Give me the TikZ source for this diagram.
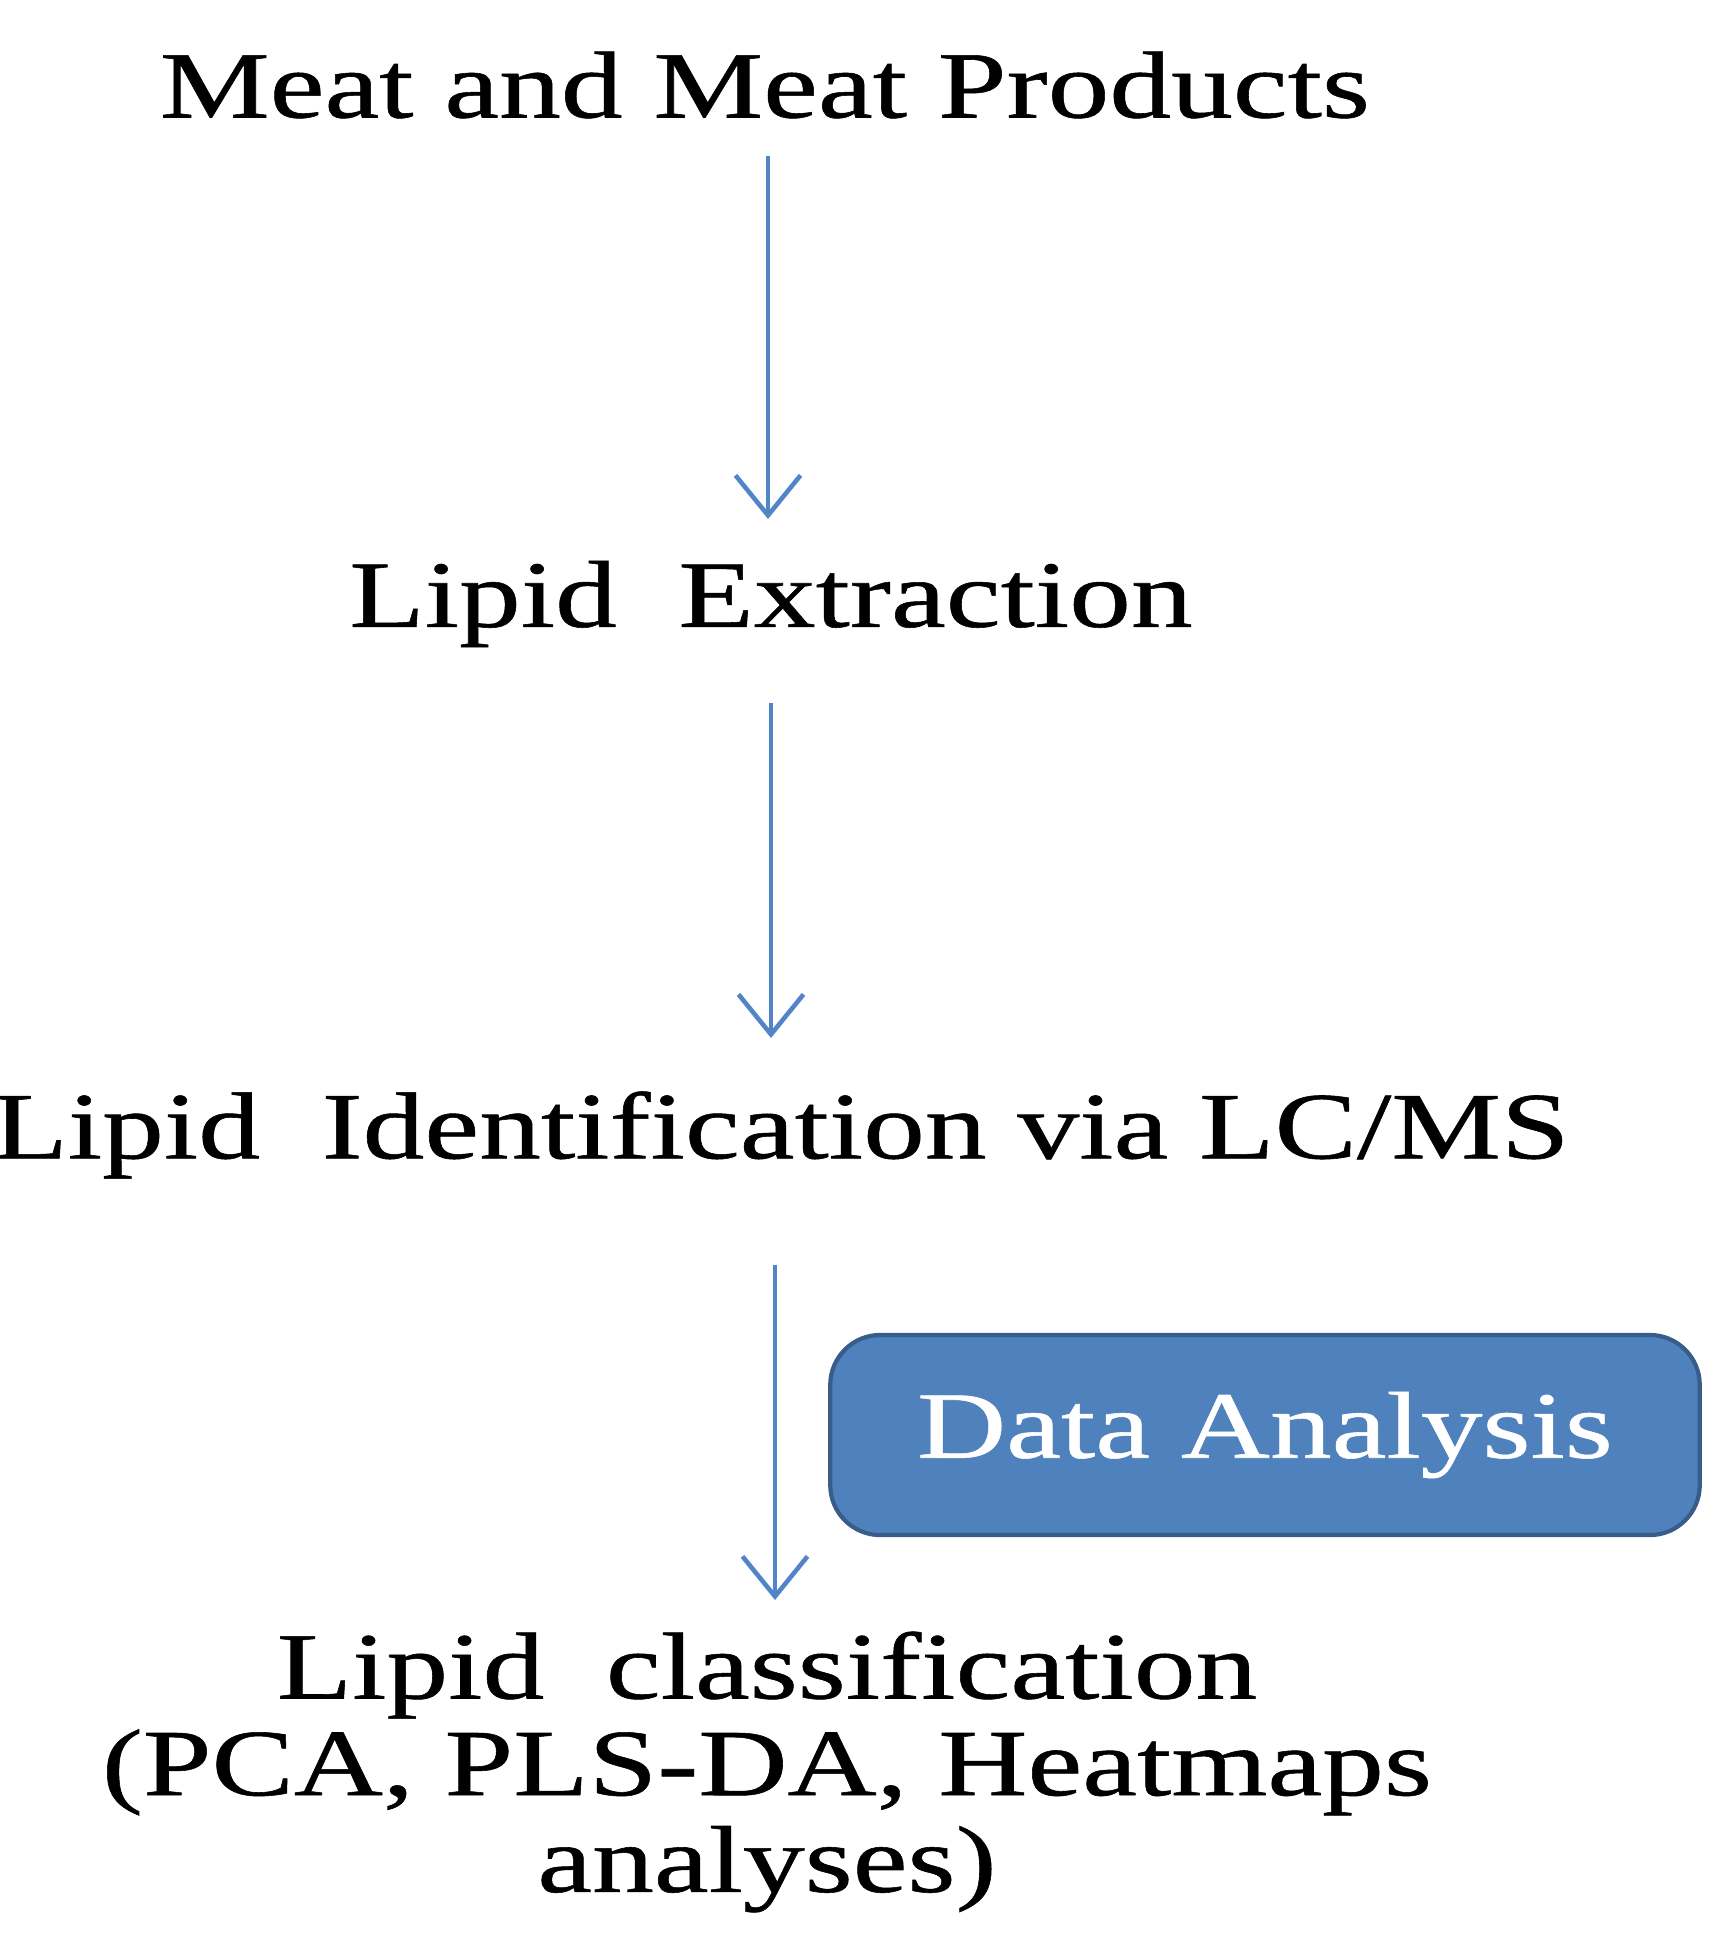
\documentclass[tikz,border=0pt]{standalone}
\usepackage{fontspec}
\setmainfont[FakeStretch=1.3,FakeBold=0.6]{Liberation Serif}
\usetikzlibrary{arrows.meta}
\definecolor{arrowblue}{RGB}{84,132,200}
\definecolor{boxblue}{RGB}{79,129,189}
\definecolor{boxedge}{RGB}{56,93,138}
\tikzset{
  stage/.style={align=center,font=\fontsize{27}{27.5}\selectfont},
  flow/.style={draw=arrowblue,line width=1.3pt,-{Straight Barb[length=4mm,width=6.5mm,line width=1.3pt]}}
}
\begin{document}
\begin{tikzpicture}[x=0.01cm,y=-0.01cm]
    \useasboundingbox (0,0) rectangle (1726,1945);
    \node[stage] (meat) at (765,85) {Meat and Meat Products};
    \node[stage] (extr) at (771,604) {Lipid\ \ Extraction};
    \node[stage] (ident) at (781,1135) {Lipid\ \ Identification via LC/MS};
    \node[stage] (class) at (767,1772) {Lipid\ \ classification\\(PCA, PLS-DA, Heatmaps\\analyses)};
    \node[draw=boxedge,fill=boxblue,line width=1.2pt,rounded corners=0.5cm,minimum width=8.69cm,minimum height=2cm,text=white,font=\fontsize{27}{27.5}\selectfont] (data) at (1265,1435) {Data Analysis};
    \coordinate (a1) at (768,156);
    \coordinate (b1) at (768,519);
    \coordinate (a2) at (771,703);
    \coordinate (b2) at (771,1038);
    \coordinate (a3) at (775,1265);
    \coordinate (b3) at (775,1600);
    \draw[flow] (a1) -- (b1);
    \draw[flow] (a2) -- (b2);
    \draw[flow] (a3) -- (b3);
\end{tikzpicture}
\end{document}
